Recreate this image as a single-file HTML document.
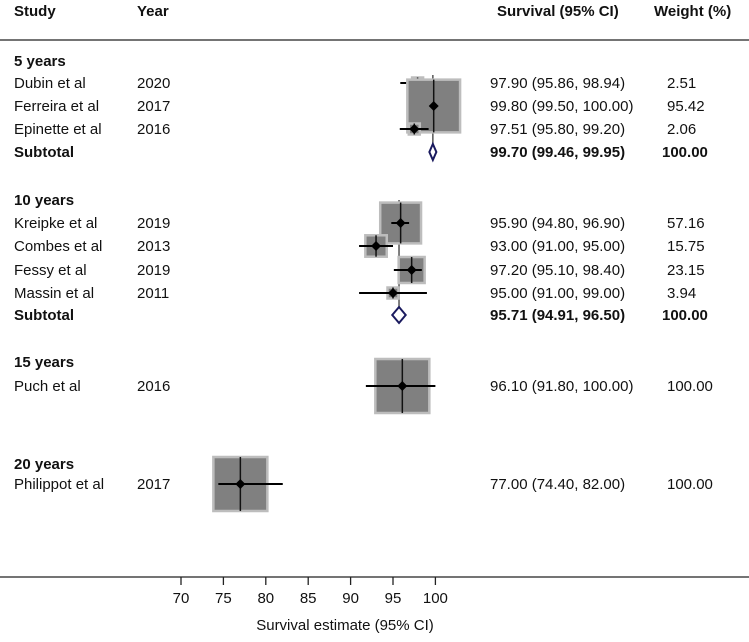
<!DOCTYPE html>
<html><head><meta charset="utf-8"><style>
body{margin:0;background:#fff;}
svg text{font-family:"Liberation Sans",Arial,sans-serif;font-size:15px;fill:#111;}
.b{font-weight:bold;}
</style></head><body>
<svg id="c" width="749" height="637" xmlns="http://www.w3.org/2000/svg"></svg>
<script>
const studies=["Dubin et al","Ferreira et al","Epinette et al","Kreipke et al","Combes et al","Fessy et al","Massin et al","Puch et al","Philippot et al"];
const years=["2020","2017","2016","2019","2013","2019","2011","2016","2017"];
const est=[97.90,99.80,97.51,95.90,93.00,97.20,95.00,96.10,77.00];
const lo=[95.86,99.50,95.80,94.80,91.00,95.10,91.00,91.80,74.40];
const hi=[98.94,100.00,99.20,96.90,95.00,98.40,99.00,100.00,82.00];
const weights=[2.51,95.42,2.06,57.16,15.75,23.15,3.94,100.00,100.00];
const rowY=[83,106,129,223,246,270,293,386,484];
const groupNames=["5 years","10 years","15 years","20 years"];
const groupY=[61,200,362,464];
const subEst=[99.70,95.71];
const subLo=[99.46,94.91];
const subHi=[99.95,96.50];
const subY=[152,315];
const subTop=[75,200];
const ticks=[70,75,80,85,90,95,100];
const NS="http://www.w3.org/2000/svg";
const svg=document.getElementById('c');
const X=v=>181+(v-70)*8.48;
function mk(tag,attrs,txt){const e=document.createElementNS(NS,tag);for(const k in attrs)e.setAttribute(k,attrs[k]);if(txt!==undefined)e.textContent=txt;svg.appendChild(e);return e;}
function t(x,y,s,cls,name){const e=mk('text',{x:x,y:y+5,class:cls||''},s);

return e;}
// header
t(14,11,"Study","b","header-study");t(137,11,"Year","b","header-year");
t(497,11,"Survival (95% CI)","b","header-survival");t(654,11,"Weight (%)","b","header-weight");
let hl=mk('line',{x1:0,x2:749,y1:40,y2:40,stroke:'#222','stroke-width':1.3});


groupNames.forEach((g,i)=>{t(14,groupY[i],g,"b","group-label");});
// subtotal vertical lines
subEst.forEach((v,i)=>{const l=mk('line',{x1:X(v),x2:X(v),y1:subTop[i],y2:subY[i]-8,stroke:'#555','stroke-width':1.5});

});
studies.forEach((s,i)=>{
 const y=rowY[i],cx=X(est[i]),sz=Math.max(11,5.4*Math.sqrt(weights[i]));
 const r=mk('rect',{x:cx-sz/2,y:y-sz/2,width:sz,height:sz,fill:'#808080',stroke:'#bdbdbd','stroke-width':2.5});
 
 
 const v=mk('line',{x1:cx,x2:cx,y1:y-sz/2,y2:y+sz/2,stroke:'#111','stroke-width':1.5});
 
 
 const ci=mk('line',{x1:X(lo[i]),x2:X(hi[i]),y1:y,y2:y,stroke:'#000','stroke-width':2});
 
 
 const d=mk('polygon',{points:`${cx-5},${y} ${cx},${y-5} ${cx+5},${y} ${cx},${y+5}`,fill:'#000'});
 
 
 t(14,y,s,"","study-name");t(137,y,years[i],"","study-year");
 t(490,y,est[i].toFixed(2)+" ("+lo[i].toFixed(2)+", "+hi[i].toFixed(2)+")","","study-survival");
 t(667,y,weights[i].toFixed(2),"","study-weight");
});
subEst.forEach((v,i)=>{const y=subY[i];
 const a=Math.min(X(subLo[i]),X(v)-3.5),b=Math.max(X(subHi[i]),X(v)+3.5);
 const d=mk('polygon',{points:`${a},${y} ${X(v)},${y-8} ${b},${y} ${X(v)},${y+8}`,fill:'#fff',stroke:'#1a1a5e','stroke-width':2});
 
 
 t(14,y,"Subtotal","b","subtotal-label");
 t(490,y,v.toFixed(2)+" ("+subLo[i].toFixed(2)+", "+subHi[i].toFixed(2)+")","b","subtotal-survival");
 t(662,y,"100.00","b","subtotal-weight");
});
// axis
const ax=mk('line',{x1:0,x2:749,y1:577,y2:577,stroke:'#222','stroke-width':1.3});


ticks.forEach(v=>{const l=mk('line',{x1:X(v),x2:X(v),y1:577,y2:585,stroke:'#222','stroke-width':1.3});


const tx=t(X(v),598,String(v),"","x-tick-label");tx.setAttribute('text-anchor','middle');});
const ttl=t(345,625,"Survival estimate (95% CI)","","x-axis-title");ttl.setAttribute('text-anchor','middle');
</script>
</body></html>
